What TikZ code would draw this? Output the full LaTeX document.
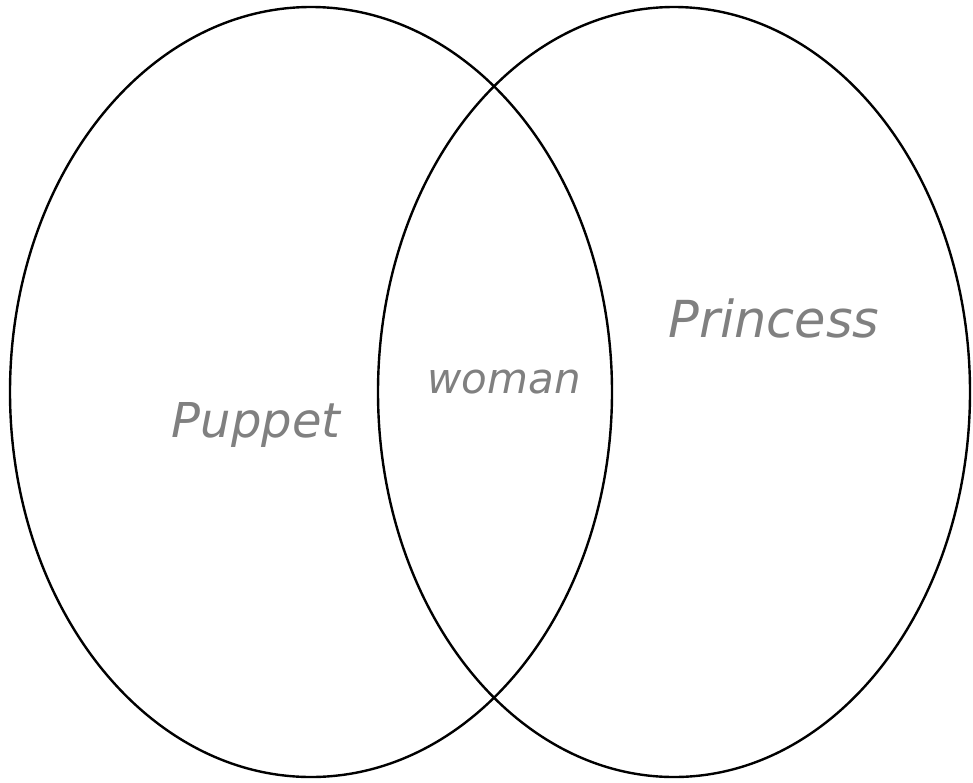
\documentclass[tikz,border=0pt]{standalone}
\usepackage{fontspec}
\setmainfont{DejaVu Sans}
\begin{document}
\begin{tikzpicture}[x=1pt,y=-1pt,
  setline/.style={draw=black,line width=2.4pt},
  hand/.style={text=black!50,font=\itshape,inner sep=0pt}]
\useasboundingbox (0,0) rectangle (973,782);
\draw[setline] (311,392) ellipse [x radius=301, y radius=385];
\draw[setline] (674,392) ellipse [x radius=296, y radius=385];
\node[hand,font=\fontsize{48}{56}\selectfont\itshape] (puppet) at (256,425) {Puppet};
\node[hand,font=\fontsize{42}{50}\selectfont\itshape] (woman) at (504,382) {woman};
\node[hand,font=\fontsize{51}{60}\selectfont\itshape] (princess) at (774,318) {Princess};
\end{tikzpicture}
\end{document}
